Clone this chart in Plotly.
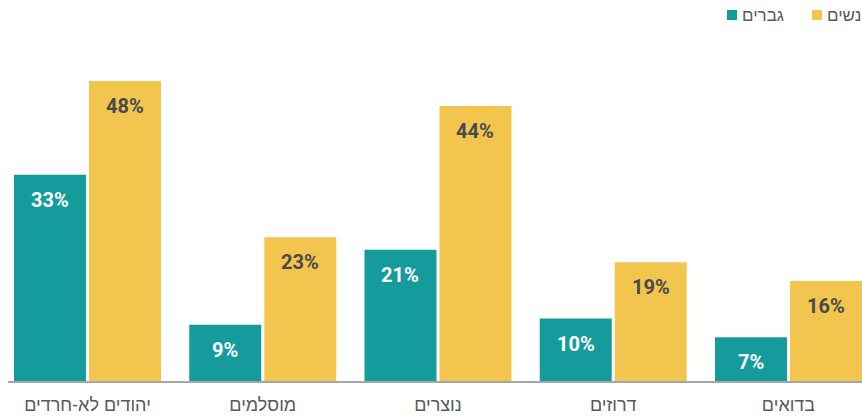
import plotly.graph_objects as go

categories = ["יהודים לא-חרדים", "מוסלמים", "נוצרים", "דרוזים", "בדואים"]
men = [33, 9, 21, 10, 7]
women = [48, 23, 44, 19, 16]
men_name = "גברים"
women_name = "נשים"

TEAL = "#169b9c"
YELLOW = "#f2c54f"

xs = list(range(len(categories)))

fig = go.Figure()
fig.add_trace(go.Bar(x=xs, y=men, name=men_name, marker=dict(color=TEAL, line=dict(width=0))))
fig.add_trace(go.Bar(x=xs, y=women, name=women_name, marker=dict(color=YELLOW, line=dict(width=0))))

LABEL_FONT = "Roboto, Arial, Liberation Sans"
off = 0.214
for i, (m, w) in enumerate(zip(men, women)):
    fig.add_annotation(x=i - off, y=m, text=f"<b>{m}%</b>", showarrow=False,
                       yanchor="top", yshift=-11,
                       font=dict(family=LABEL_FONT, size=20, color="white"))
    fig.add_annotation(x=i + off, y=w, text=f"<b>{w}%</b>", showarrow=False,
                       yanchor="top", yshift=-11,
                       font=dict(family=LABEL_FONT, size=20, color="#4a4a4a"))

# manual legend (pixel -> paper conversion for plot area l=8,w=854,t=40,h=341)
PL, PW, PT, PH = 8, 854, 40, 341
def px(x):
    return (x - PL) / PW
def py(y):
    return (PT + PH - y) / PH

for sq_left, color, name in [(727, TEAL, men_name), (812, YELLOW, women_name)]:
    fig.add_shape(type="rect", xref="paper", yref="paper",
                  x0=px(sq_left), x1=px(sq_left + 10), y0=py(20), y1=py(10),
                  fillcolor=color, line=dict(width=0))
    fig.add_annotation(xref="paper", yref="paper", x=px(sq_left + 13), y=py(15),
                       xanchor="left", yanchor="middle", text=name, showarrow=False,
                       font=dict(family="Arial, Liberation Sans", size=17, color="#595959"))

fig.update_layout(
    width=862, height=416,
    margin=dict(l=PL, r=0, t=PT, b=35),
    barmode="group", bargap=0.144, bargroupgap=0.04,
    plot_bgcolor="white", paper_bgcolor="white",
    showlegend=False,
    xaxis=dict(range=[-0.4536, 4.4195], tickvals=xs, ticktext=categories,
               showgrid=False, zeroline=False, showline=True, linecolor="#a6a6a6", linewidth=2,
               ticks="outside", ticklen=6, tickcolor="rgba(0,0,0,0)",
               tickfont=dict(family="Arial, Liberation Sans", size=18, color="#595959")),
    yaxis=dict(range=[0, 54.56], visible=False, showgrid=False, zeroline=False),
    font=dict(family="Arial, Liberation Sans"),
)

fig.write_html("out.html", config={"displayModeBar": False},
               post_script="document.body.style.margin='0';document.body.style.overflow='hidden';")
